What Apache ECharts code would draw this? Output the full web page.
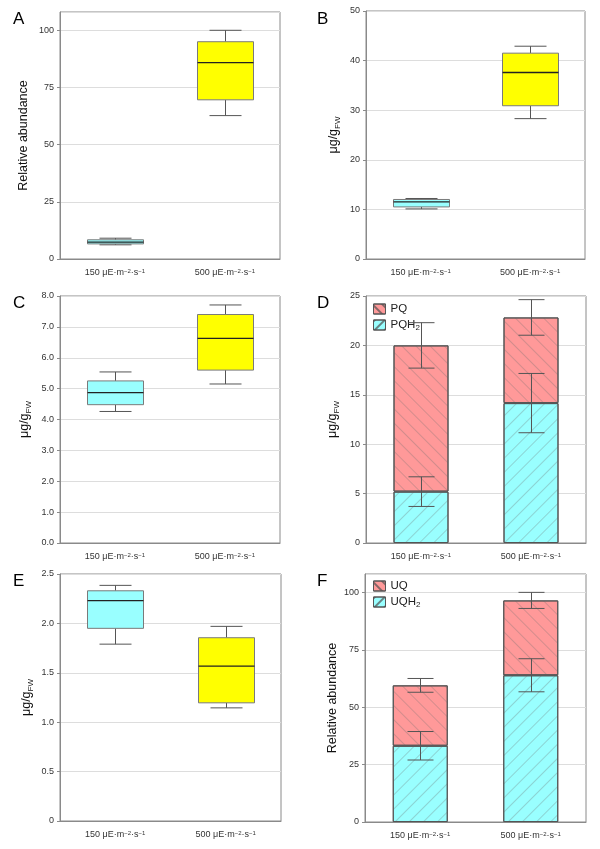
<!DOCTYPE html>
<html><head><meta charset="utf-8">
<script src="https://cdn.jsdelivr.net/npm/echarts@6/dist/echarts.min.js"></script>
<style>html,body{margin:0;padding:0;background:#fff}#c{width:600px;height:849px}</style>
</head><body><div id="c"></div>
<script>
// ---------- data ----------
const categories = ['150', '500'];
const panelLetters = ['A', 'B', 'C', 'D', 'E', 'F'];
// box plots: [min, q1, median, q3, max] per category
const boxA = [[6.2, 6.6, 7.4, 8.4, 9.1], [62.7, 69.6, 85.9, 95.0, 100.0]];
const boxB = [[10.1, 10.5, 11.5, 12.0, 12.2], [28.3, 30.9, 37.6, 41.5, 42.9]];
const boxC = [[4.26, 4.48, 4.87, 5.25, 5.54], [5.15, 5.6, 6.63, 7.4, 7.71]];
const boxE = [[1.79, 1.95, 2.23, 2.33, 2.385], [1.145, 1.196, 1.568, 1.855, 1.97]];
// stacked bars (D)
const pqh2 = [5.2, 14.16];
const pqh2Err = [1.5, 3.0];
const pq = [14.8, 8.67];
const pqErr = [2.3, 1.8];
// stacked bars (F)
const uqh2 = [33.2, 63.9];
const uqh2Err = [6.2, 7.2];
const uq = [26.3, 32.6];
const uqErr = [3.0, 3.5];
// y tick ranges
const yMaxA = 108, yStepA = 25;
const yMaxB = 50, yStepB = 10;
const yMaxC = 8, yStepC = 1;
const yMaxD = 25, yStepD = 5;
const yMaxE = 2.5, yStepE = 0.5;
const yMaxF = 108, yStepF = 25;

// ---------- styles ----------
const FONT = 'Liberation Sans, Arial, sans-serif';
const CYAN = '#99FFFF', YELLOW = '#FFFF00', RED = '#FF9999';
const FRAME = '#8a8a8a';
const hatchUp = { symbol: 'rect', symbolSize: 1, dashArrayX: [1, 0], dashArrayY: [1, 9], rotation: -Math.PI / 4, color: 'rgba(110,110,110,0.3)' };
const hatchDown = { symbol: 'rect', symbolSize: 1, dashArrayX: [1, 0], dashArrayY: [1, 9], rotation: Math.PI / 4, color: 'rgba(110,110,110,0.3)' };
const iconUp = { symbol: 'rect', symbolSize: 1, dashArrayX: [1, 0], dashArrayY: [2, 5], rotation: -Math.PI / 4, color: 'rgba(80,80,80,0.7)' };
const iconDown = { symbol: 'rect', symbolSize: 1, dashArrayX: [1, 0], dashArrayY: [2, 5], rotation: Math.PI / 4, color: 'rgba(80,80,80,0.7)' };

const grids = [
  { left: 60, top: 12, width: 220, height: 247 },
  { left: 366, top: 11, width: 219, height: 248 },
  { left: 60, top: 296, width: 220, height: 247 },
  { left: 366, top: 296, width: 220, height: 247 },
  { left: 60, top: 574, width: 221, height: 247 },
  { left: 365, top: 574, width: 221, height: 248 }
].map(g => Object.assign({ show: true, borderColor: FRAME, borderWidth: 1, containLabel: false }, g));

const letterPos = [[13, 11], [317, 11], [13, 295], [317, 295], [13, 573], [317, 573]];

function xAxis(i) {
  return {
    type: 'category', gridIndex: i, data: categories,
    axisLine: { lineStyle: { color: FRAME } },
    axisTick: { alignWithLabel: true, length: 4, lineStyle: { color: FRAME } },
    axisLabel: {
      interval: 0, margin: 9, color: '#333', fontFamily: FONT, fontSize: 9,
      formatter: v => v + ' μE·m{sup|−2}·s{sup|−1}',
      rich: { sup: { fontSize: 6, verticalAlign: 'top', lineHeight: 8, color: '#333', fontFamily: FONT } }
    }
  };
}
function yAxis(i, max, step, nameRich, gap, fmt, hideMax) {
  return {
    type: 'value', gridIndex: i, min: 0, max: max, interval: step,
    name: nameRich, nameLocation: 'middle', nameRotate: 90, nameGap: gap,
    nameTextStyle: {
      color: '#111', fontFamily: FONT, fontSize: 12,
      rich: {
        a: { fontSize: 12.5, fontFamily: FONT, color: '#111', lineHeight: 16 },
        b: { fontSize: 8, fontFamily: FONT, color: '#111', verticalAlign: 'bottom', lineHeight: 9 }
      }
    },
    axisLine: { show: true, lineStyle: { color: FRAME } },
    axisTick: { show: true, length: 3, lineStyle: { color: FRAME } },
    splitLine: { lineStyle: { color: '#dddddd' } },
    axisLabel: { color: '#333', fontFamily: FONT, fontSize: 9, margin: 6, formatter: fmt, showMaxLabel: !hideMax }
  };
}
const fmtInt = v => String(v);
const fmt1 = v => v.toFixed(1);
const fmtE = v => (v === 0 ? '0' : v.toFixed(1));
const relName = '{a|Relative abundance}';
const ugName = '{a|μg/g}{b|FW}';

function renderBox(params, api) {
  const c = api.value(0);
  const pMin = api.coord([c, api.value(1)]);
  const pQ1 = api.coord([c, api.value(2)]);
  const pMed = api.coord([c, api.value(3)]);
  const pQ3 = api.coord([c, api.value(4)]);
  const pMax = api.coord([c, api.value(5)]);
  const x = Math.round(pMin[0]) + 0.5, bw = 56, cw = 32;
  const fill = api.visual('color');
  const ln = { stroke: '#555', lineWidth: 1 };
  return {
    type: 'group', children: [
      { type: 'line', shape: { x1: x, y1: pMin[1], x2: x, y2: pQ1[1] }, style: ln },
      { type: 'line', shape: { x1: x, y1: pQ3[1], x2: x, y2: pMax[1] }, style: ln },
      { type: 'line', shape: { x1: x - cw / 2, y1: pMin[1], x2: x + cw / 2, y2: pMin[1] }, style: ln },
      { type: 'line', shape: { x1: x - cw / 2, y1: pMax[1], x2: x + cw / 2, y2: pMax[1] }, style: ln },
      { type: 'rect', shape: { x: x - bw / 2, y: pQ3[1], width: bw, height: pQ1[1] - pQ3[1] }, style: { fill: fill, stroke: '#7a7a7a', lineWidth: 1 } },
      { type: 'line', shape: { x1: x - bw / 2, y1: pMed[1], x2: x + bw / 2, y2: pMed[1] }, style: { stroke: '#222', lineWidth: 1.3 } }
    ]
  };
}
function renderErr(params, api) {
  const c = api.value(0), m = api.value(1), e = api.value(2);
  const top = api.coord([c, m + e]), bot = api.coord([c, m - e]);
  const x = Math.round(top[0]) + 0.5, cw = 26;
  const ln = { stroke: '#555', lineWidth: 1 };
  return {
    type: 'group', children: [
      { type: 'line', shape: { x1: x, y1: top[1], x2: x, y2: bot[1] }, style: ln },
      { type: 'line', shape: { x1: x - cw / 2, y1: top[1], x2: x + cw / 2, y2: top[1] }, style: ln },
      { type: 'line', shape: { x1: x - cw / 2, y1: bot[1], x2: x + cw / 2, y2: bot[1] }, style: ln }
    ]
  };
}
const boxColors = [CYAN, YELLOW];
function boxSeries(i, box) {
  return {
    type: 'custom', xAxisIndex: i, yAxisIndex: i, renderItem: renderBox,
    encode: { x: 0, y: [1, 2, 3, 4, 5] },
    data: box.map((b, k) => ({ value: [k].concat(b), itemStyle: { color: boxColors[k] } })),
    z: 3
  };
}
function barSeries(i, name, data, color, decal, stack) {
  return {
    type: 'bar', name: name, xAxisIndex: i, yAxisIndex: i, stack: stack, data: data, barWidth: 55,
    itemStyle: { color: color, borderColor: '#555', borderWidth: 1, decal: decal },
    emphasis: { disabled: true }
  };
}
function errSeries(i, centers, errs) {
  return {
    type: 'custom', xAxisIndex: i, yAxisIndex: i, renderItem: renderErr, z: 5,
    encode: { x: 0, y: [1] },
    data: centers.map((m, k) => [k, m, errs[k]])
  };
}
const dTotal = pqh2.map((v, k) => v + pq[k]);
const fTotal = uqh2.map((v, k) => v + uq[k]);

const legendCommon = {
  orient: 'vertical', icon: 'rect', itemWidth: 12, itemHeight: 10, itemGap: 4, padding: 0,
  textStyle: { fontFamily: FONT, fontSize: 11.5, color: '#222',
    rich: { s: { fontSize: 8, verticalAlign: 'bottom', lineHeight: 9, fontFamily: FONT, color: '#222' }, n: { fontSize: 11.5, lineHeight: 14, fontFamily: FONT, color: '#222' } } },
  formatter: n => n.endsWith('H2') ? '{n|' + n.slice(0, -1) + '}{s|2}' : '{n|' + n + '}',
  selectedMode: false
};
function legendItems(names) {
  return names.map(n => ({ name: n, itemStyle: { decal: n.endsWith('H2') ? iconUp : iconDown, borderColor: '#555', borderWidth: 1 } }));
}

const option = {
  animation: false,
  backgroundColor: '#fff',
  title: panelLetters.map((t, i) => ({ text: t, left: letterPos[i][0], top: letterPos[i][1], padding: 0,
    textStyle: { fontFamily: FONT, fontSize: 17, fontWeight: 'normal', color: '#000' } })),
  legend: [
    Object.assign({ left: 373, top: 303, data: legendItems(['PQ', 'PQH2']) }, legendCommon),
    Object.assign({ left: 373, top: 580, data: legendItems(['UQ', 'UQH2']) }, legendCommon)
  ],
  grid: grids,
  xAxis: [0, 1, 2, 3, 4, 5].map(xAxis),
  yAxis: [
    yAxis(0, yMaxA, yStepA, relName, 28, fmtInt, true),
    yAxis(1, yMaxB, yStepB, ugName, 24, fmtInt, false),
    yAxis(2, yMaxC, yStepC, ugName, 27, fmt1, false),
    yAxis(3, yMaxD, yStepD, ugName, 25, fmtInt, false),
    yAxis(4, yMaxE, yStepE, ugName, 25, fmtE, false),
    yAxis(5, yMaxF, yStepF, relName, 24, fmtInt, true)
  ],
  series: [
    boxSeries(0, boxA),
    boxSeries(1, boxB),
    boxSeries(2, boxC),
    barSeries(3, 'PQH2', pqh2, CYAN, hatchUp, 'D'),
    barSeries(3, 'PQ', pq, RED, hatchDown, 'D'),
    errSeries(3, pqh2, pqh2Err),
    errSeries(3, dTotal, pqErr),
    boxSeries(4, boxE),
    barSeries(5, 'UQH2', uqh2, CYAN, hatchUp, 'F'),
    barSeries(5, 'UQ', uq, RED, hatchDown, 'F'),
    errSeries(5, uqh2, uqh2Err),
    errSeries(5, fTotal, uqErr)
  ]
};
const chart = echarts.init(document.getElementById('c'), null, { renderer: 'canvas' });
chart.setOption(option);
</script></body></html>
